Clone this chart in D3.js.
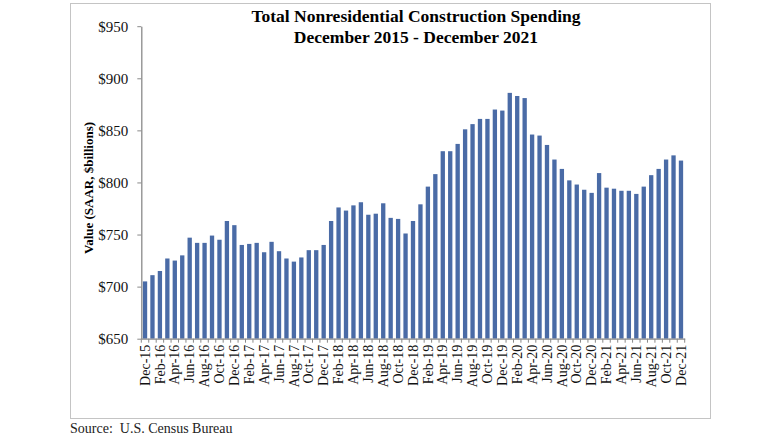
<!DOCTYPE html>
<html>
<head>
<meta charset="utf-8">
<script src="https://cdn.jsdelivr.net/npm/d3@7/dist/d3.min.js"></script>
<style>
    body { margin: 0; background: #fff; }
    svg { display: block; font-family: "Liberation Serif", "Times New Roman", serif; }
</style>
</head>
<body>
<svg width="780" height="439"></svg>
<script>
// Month labels, one bar per month from Dec-15 to Dec-21
const monthNames = ['Jan', 'Feb', 'Mar', 'Apr', 'May', 'Jun', 'Jul', 'Aug', 'Sep', 'Oct', 'Nov', 'Dec'];
const years = ['16', '17', '18', '19', '20', '21'];

// Total nonresidential construction spending, SAAR, $billions
const spending = [
    705,
    711, 715, 727, 725, 730, 747, 742, 742, 749, 745, 763, 759,
    740, 741, 742, 733, 743, 734, 727, 724, 728, 735, 735, 740,
    763, 776, 773, 778, 781, 769, 770, 780, 766, 765, 751, 763,
    779, 796, 808, 830, 830, 837, 851, 856, 861, 861, 870, 869,
    886, 883, 881, 846, 845, 836, 822, 813, 802, 798, 793, 790,
    809, 795, 794, 792, 792, 789, 796, 807, 813, 822, 826, 821
];

const yTicks = [650, 700, 750, 800, 850, 900, 950];

const titleLines = ['Total Nonresidential Construction Spending', 'December 2015 - December 2021'];
const yTitle = 'Value (SAAR, $billions)';
const sourceText = 'Source:  U.S. Census Bureau';

class BarPlot {
    constructor() {
        this.svg = d3.select('svg');
        this.plot = { left: 141.3, right: 684.7, top: 26.2, bottom: 338.7 };
        this.barColor = '#4a6ba6';
        this.axisColor = '#8a8a8a';
        this.categories = ['Dec-15'];
        years.forEach(yy => monthNames.forEach(m => this.categories.push(`${m}-${yy}`)));
        this.dataset = this.categories.map((c, i) => [c, spending[i]]);
    }

    draw = () => {
        this.drawFrame();
        this.setScales();
        this.drawBars();
        this.drawYAxis();
        this.drawXAxis();
        this.drawTexts();
    }

    drawFrame = () => {
        this.svg.append('rect')
            .attr('x', 70.5).attr('y', 3.5)
            .attr('width', 640).attr('height', 415)
            .attr('fill', 'none')
            .attr('stroke', '#c4c4c4');
    }

    setScales = () => {
        this.xScale = d3.scaleBand()
            .domain(this.categories)
            .range([this.plot.left, this.plot.right])
            .paddingInner(0.42)
            .paddingOuter(0.21);
        this.yScale = d3.scaleLinear()
            .domain([650, 950])
            .range([this.plot.bottom, this.plot.top]);
    }

    drawBars = () => {
        this.svg.append('g')
            .selectAll('rect')
            .data(this.dataset)
            .join('rect')
            .attr('x', d => this.xScale(d[0]))
            .attr('width', this.xScale.bandwidth())
            .attr('y', d => this.yScale(d[1]))
            .attr('height', d => this.yScale(650) - this.yScale(d[1]))
            .attr('fill', this.barColor);
    }

    drawYAxis = () => {
        const yAxis = d3.axisLeft(this.yScale)
            .tickValues(yTicks)
            .tickFormat(d => '$' + d)
            .tickSize(4)
            .tickSizeOuter(0)
            .tickPadding(9);
        const g = this.svg.append('g')
            .attr('transform', `translate(${this.plot.left},0)`)
            .call(yAxis);
        g.select('.domain').attr('stroke', this.axisColor).attr('stroke-width', 1.3);
        g.selectAll('.tick line').attr('stroke', this.axisColor);
        g.selectAll('.tick text')
            .attr('fill', '#111')
            .style('font-size', '15px')
            .style('font-family', '"Liberation Serif", serif');
    }

    drawXAxis = () => {
        // labels every second month, ticks between the categories
        const xAxis = d3.axisBottom(this.xScale)
            .tickValues(this.categories.filter((c, i) => i % 2 === 0))
            .tickSize(0)
            .tickSizeOuter(0);
        const g = this.svg.append('g')
            .attr('transform', `translate(0,${this.plot.bottom})`)
            .call(xAxis);
        g.select('.domain').attr('stroke', this.axisColor).attr('stroke-width', 1.3);
        g.selectAll('.tick text')
            .attr('transform', 'rotate(-90)')
            .attr('text-anchor', 'end')
            .attr('x', -6)
            .attr('y', 0)
            .attr('dy', '0.33em')
            .attr('fill', '#111')
            .style('font-size', '14px')
            .style('font-family', '"Liberation Serif", serif');

        const step = this.xScale.step();
        const gap = step * this.xScale.paddingInner() / 2;
        const bounds = this.categories.map(c => this.xScale(c) - gap);
        bounds.push(this.plot.right);
        g.append('g')
            .selectAll('line')
            .data(bounds)
            .join('line')
            .attr('x1', d => d).attr('x2', d => d)
            .attr('y1', 0).attr('y2', 4)
            .attr('stroke', this.axisColor);
    }

    drawTexts = () => {
        this.svg.append('text')
            .attr('x', 416)
            .attr('y', 22)
            .attr('text-anchor', 'middle')
            .style('font-weight', 'bold')
            .style('font-size', '17.5px')
            .text(titleLines[0]);
        this.svg.append('text')
            .attr('x', 416)
            .attr('y', 43)
            .attr('text-anchor', 'middle')
            .style('font-weight', 'bold')
            .style('font-size', '17.5px')
            .text(titleLines[1]);

        this.svg.append('text')
            .attr('transform', 'translate(93,188) rotate(-90)')
            .attr('text-anchor', 'middle')
            .style('font-weight', 'bold')
            .style('font-size', '13px')
            .text(yTitle);

        // keep the double space after "Source:"
        this.svg.append('text')
            .attr('x', 70)
            .attr('y', 433)
            .style('font-size', '14px')
            .style('white-space', 'pre')
            .attr('fill', '#222')
            .text(sourceText);
    }
}

const chart = new BarPlot();
chart.draw();
</script>
</body>
</html>
